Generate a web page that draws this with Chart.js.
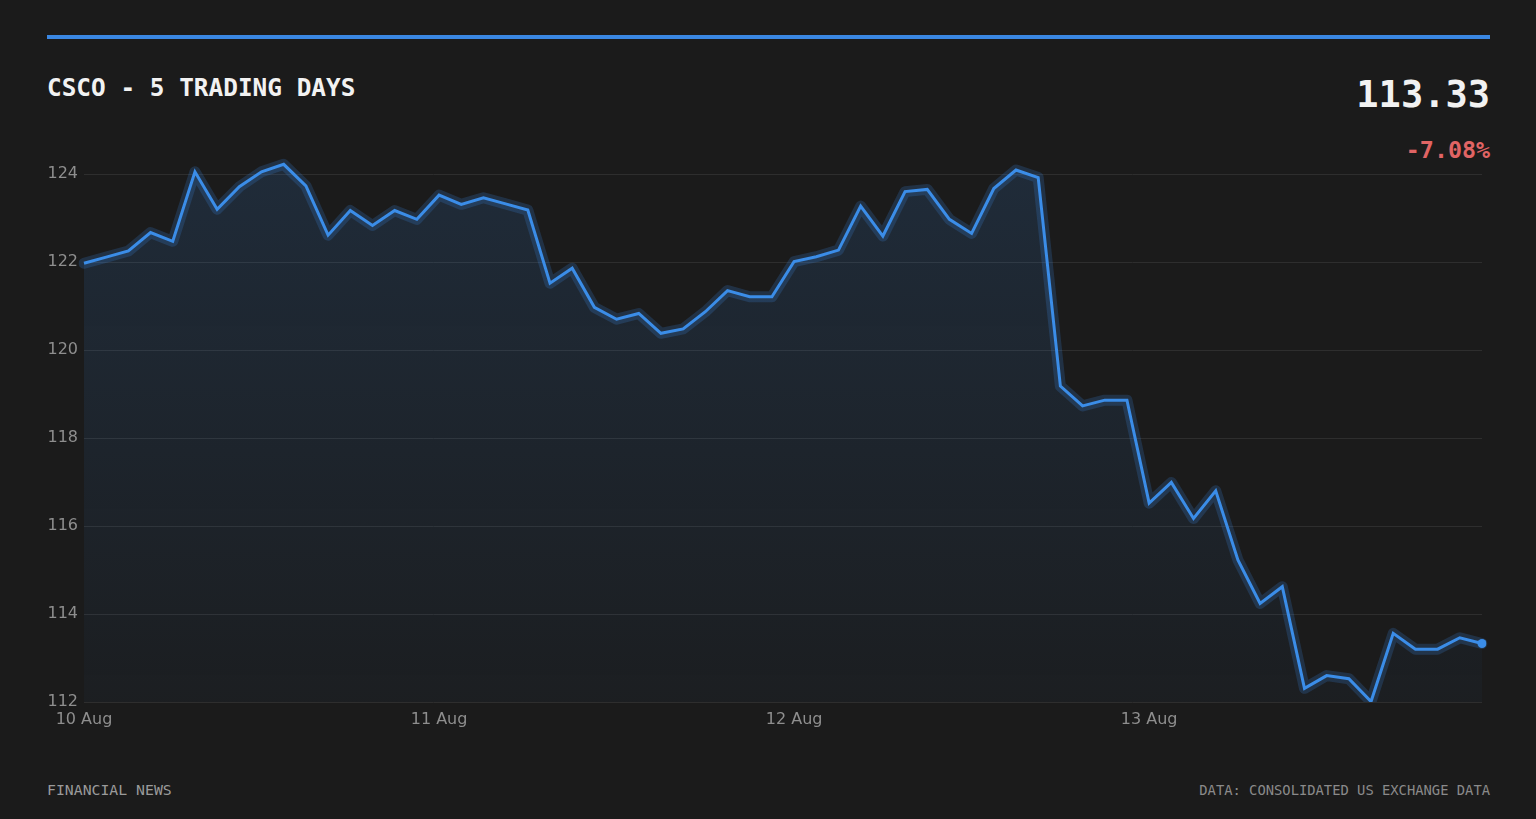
<!DOCTYPE html>
<html>
<head>
<meta charset="utf-8">
<script src="https://cdn.jsdelivr.net/npm/chart.js@4.4.1/dist/chart.umd.min.js"></script>
<style>
  html, body { margin:0; padding:0; background:#1b1b1b; width:1536px; height:819px; overflow:hidden; }
  .mono { font-family:'DejaVu Sans Mono', monospace; position:absolute; line-height:1; white-space:nowrap; }
  #bar { position:absolute; left:47px; top:35px; width:1443px; height:4px; background:#3a87e2; }
  #title { left:47px; top:76px; font-size:24.4px; font-weight:bold; color:#f2f2f2; }
  #price { right:46px; top:76px; font-size:37px; font-weight:bold; color:#f2f2f2; }
  #change { right:46px; top:138px; font-size:23.3px; font-weight:bold; color:#e06464; }
  #srcL { left:47px; top:783px; font-size:14.8px; color:#9a9a9a; }
  #srcR { right:46px; top:784px; font-size:13.8px; color:#8a8a8a; }
  #wrap { position:absolute; left:0; top:0; width:1536px; height:819px; }
</style>
</head>
<body>
<div id="bar"></div>
<div id="title" class="mono">CSCO - 5 TRADING DAYS</div>
<div id="price" class="mono">113.33</div>
<div id="change" class="mono">-7.08%</div>
<div id="srcL" class="mono">FINANCIAL NEWS</div>
<div id="srcR" class="mono">DATA: CONSOLIDATED US EXCHANGE DATA</div>
<div id="wrap"><canvas id="chart" width="1536" height="819"></canvas></div>
<script>
// trading days and number of quotes per day
const DAYS = ['10 Aug', '11 Aug', '12 Aug', '13 Aug'];
const PER_DAY = 16;

// close prices, one per slot
const PRICES = [
  121.97, 122.11, 122.25, 122.67, 122.47, 124.05, 123.20, 123.71,
  124.05, 124.22, 123.73, 122.61, 123.17, 122.83, 123.17, 122.97,
  123.52, 123.31, 123.46, 123.32, 123.18, 121.52, 121.86, 120.97,
  120.70, 120.83, 120.38, 120.48, 120.87, 121.35, 121.21, 121.21,
  122.01, 122.12, 122.27, 123.27, 122.59, 123.60, 123.65, 122.97,
  122.65, 123.67, 124.09, 123.92, 119.18, 118.73, 118.86, 118.86,
  116.52, 116.99, 116.17, 116.80, 115.23, 114.24, 114.62, 112.31,
  112.60, 112.53, 112.01, 113.56, 113.20, 113.20, 113.46, 113.33
];

const Y_TICKS = [112, 114, 116, 118, 120, 122, 124];

// one label per slot, day name on the first slot of each day
const labels = PRICES.map((_, i) => DAYS[Math.floor(i / PER_DAY)] + (i % PER_DAY === 0 ? '' : ' #' + (i % PER_DAY)));

const BLUE = '#3b8de8';
const last = PRICES.length - 1;

const ctx = document.getElementById('chart').getContext('2d');
const grad = ctx.createLinearGradient(0, 152, 0, 702);
grad.addColorStop(0, 'rgba(59,141,235,0.15)');
grad.addColorStop(1, 'rgba(59,141,235,0.03)');

new Chart(ctx, {
  type: 'line',
  data: {
    labels: labels,
    datasets: [
      { // main line + area
        data: PRICES,
        borderColor: BLUE, borderWidth: 3,
        backgroundColor: grad, fill: 'start',
        tension: 0,
        pointRadius: c => c.dataIndex === last ? 4.5 : 0,
        pointBackgroundColor: BLUE, pointBorderWidth: 0,
        order: 1
      },
      { // soft glow under the line
        data: PRICES,
        borderColor: 'rgba(59,141,235,0.2)', borderWidth: 11,
        fill: false, tension: 0, pointRadius: 0,
        borderJoinStyle: 'round', borderCapStyle: 'round',
        order: 2
      }
    ]
  },
  options: {
    responsive: false,
    animation: false,
    layout: { padding: { left: 40, top: 152, right: 54, bottom: 87 } },
    plugins: { legend: { display: false }, tooltip: { enabled: false } },
    scales: {
      x: {
        grid: { display: false },
        border: { display: false },
        afterFit: s => { s.height = 30; },
        ticks: {
          autoSkip: false, maxRotation: 0, padding: 0,
          color: '#8e8e8e', font: { family: 'DejaVu Sans', size: 16 },
          callback: (v, i) => i % PER_DAY === 0 ? DAYS[i / PER_DAY] : ''
        }
      },
      y: {
        min: 112, max: 124.5,
        afterFit: s => { s.width = 44; },
        afterBuildTicks: s => { s.ticks = Y_TICKS.map(v => ({ value: v })); },
        grid: { color: '#2e2e2e', lineWidth: 1, drawTicks: false },
        border: { display: false },
        ticks: {
          padding: 6, color: '#8e8e8e', font: { family: 'DejaVu Sans', size: 16 }
        }
      }
    }
  }
});
</script>
</body>
</html>
